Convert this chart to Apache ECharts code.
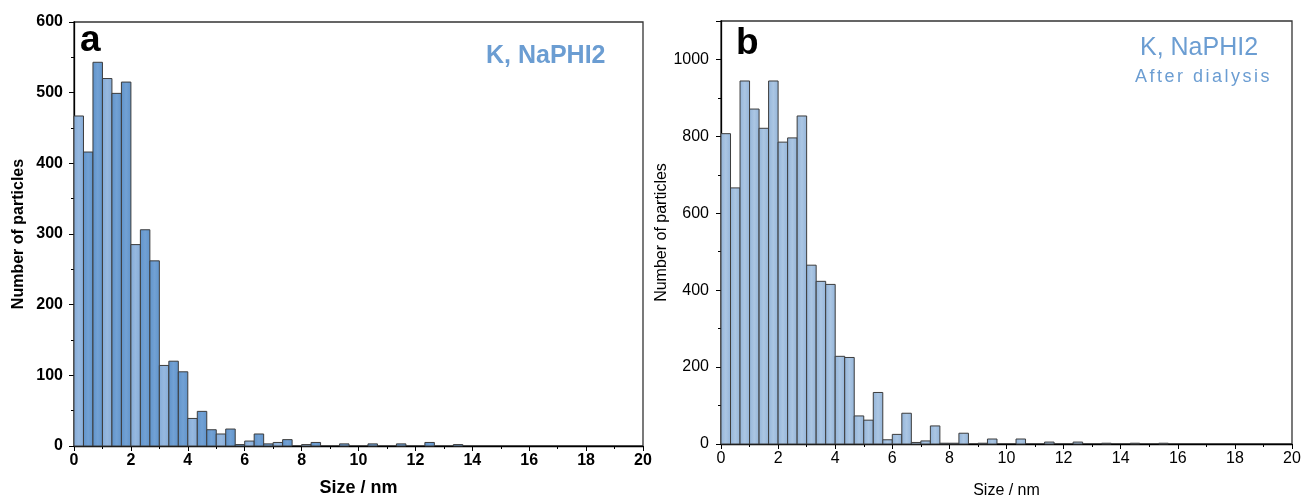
<!DOCTYPE html>
<html>
<head>
<meta charset="utf-8">
<script src="https://cdn.jsdelivr.net/npm/echarts@6/dist/echarts.min.js"></script>
<style>
  html, body { margin: 0; padding: 0; background: #fff; }
  #chart { width: 1305px; height: 504px; }
</style>
</head>
<body>
<div id="chart"></div>
<script>
// histogram bins: 1/3 nm wide, from 0 to 20 nm
const binWidth = 1 / 3
const countsA = [467, 416, 543, 520, 499, 515, 285, 306, 262, 114, 120, 105, 39, 49, 23, 17, 24, 2, 7, 17,
  3, 5, 9, 0, 2, 5, 0, 0, 3, 0, 0, 3, 0, 0, 3, 0, 0, 5, 0, 0, 2]
const countsB = [807, 666, 944, 871, 821, 944, 785, 796, 853, 465, 423, 415, 228, 225, 73, 62, 134, 11, 25, 80,
  4, 8, 47, 2, 2, 28, 0, 2, 13, 0, 0, 13, 0, 0, 5, 0, 0, 5, 0, 0, 2, 0, 0, 2, 0, 0, 2]
const xTicks = [0, 2, 4, 6, 8, 10, 12, 14, 16, 18, 20]
const yTicksA = [0, 100, 200, 300, 400, 500, 600]
const yTicksB = [0, 200, 400, 600, 800, 1000]

const toBins = counts => counts.map((c, i) => [i * binWidth, (i + 1) * binWidth, c]).filter(d => d[2] > 0)

const fontMain = '"Liberation Sans", Arial, sans-serif'

function barRender(fills) {
  return function (params, api) {
    const p0 = api.coord([api.value(0), 0])
    const p1 = api.coord([api.value(1), api.value(2)])
    const idx = Math.round(api.value(0) / binWidth)
    return {
      type: 'rect',
      shape: { x: p0[0], y: p1[1], width: p1[0] - p0[0], height: p0[1] - p1[1] },
      style: { fill: fills(idx), stroke: '#3c3c3c', lineWidth: 1 },
    }
  }
}

const grad = (c1, c2) => new echarts.graphic.LinearGradient(0, 0, 1, 0, [
  { offset: 0, color: c1 }, { offset: 0.5, color: c2 }, { offset: 1, color: c1 }])

const fillA = i => i % 3 === 0 ? grad('#84abd8', '#96b8df') : grad('#5f93cb', '#72a1d4')
const fillB = i => grad('#93b4d9', '#abc6e3')

// letter-spaced text, one element per character
function spacedText(str, x, y, font, spacing, color) {
  const ctx = document.createElement('canvas').getContext('2d')
  ctx.font = font
  const children = []
  let cx = 0
  for (const ch of str) {
    children.push({ type: 'text', x: cx, y: 0, style: { text: ch, font, fill: color } })
    cx += ctx.measureText(ch).width + spacing
  }
  return { type: 'group', left: x, top: y, children }
}

function xAxis(gridIndex, bold, nameGap, nameSize) {
  return {
    type: 'value', gridIndex, min: 0, max: 20, interval: 2,
    name: 'Size / nm', nameLocation: 'middle', nameGap,
    nameTextStyle: { fontFamily: fontMain, fontSize: nameSize, fontWeight: bold ? 'bold' : 'normal', color: '#000' },
    axisLine: { show: true, lineStyle: { color: '#000', width: 1.3 } },
    axisTick: { show: true, inside: false, length: 5, lineStyle: { color: '#000' } },
    minorTick: { show: true, splitNumber: 2, length: 3, lineStyle: { color: '#000' } },
    splitLine: { show: false },
    axisLabel: {
      fontFamily: fontMain, fontSize: 16, fontWeight: bold ? 'bold' : 'normal', color: '#000', margin: 7,
      formatter: v => xTicks.includes(v) ? String(v) : '',
    },
  }
}

function yAxis(gridIndex, bold, max, interval, ticks, nameGap, nameSize, margin) {
  return {
    type: 'value', gridIndex, min: 0, max, interval,
    name: 'Number of particles', nameLocation: 'middle', nameGap,
    nameTextStyle: { fontFamily: fontMain, fontSize: nameSize, fontWeight: bold ? 'bold' : 'normal', color: '#000' },
    axisLine: { show: true, lineStyle: { color: '#000', width: 1.3 } },
    axisTick: { show: true, inside: false, length: 5, lineStyle: { color: '#000' } },
    minorTick: { show: true, splitNumber: 2, length: 3, lineStyle: { color: '#000' } },
    splitLine: { show: false },
    axisLabel: {
      fontFamily: fontMain, fontSize: 16, fontWeight: bold ? 'bold' : 'normal', color: '#000', margin,
      showMaxLabel: ticks.includes(max),
      formatter: v => ticks.includes(v) ? String(v) : '',
    },
  }
}

const chart = echarts.init(document.getElementById('chart'), null, { renderer: 'canvas' })

chart.setOption({
  animation: false,
  backgroundColor: '#fff',
  grid: [
    { left: 74, top: 22, width: 569, height: 424, show: true, borderColor: '#333', borderWidth: 1.3, backgroundColor: 'transparent' },
    { left: 721, top: 21, width: 571, height: 425, show: true, borderColor: '#333', borderWidth: 1.3, backgroundColor: 'transparent' },
  ],
  xAxis: [xAxis(0, true, 33, 18), xAxis(1, false, 39, 16)],
  yAxis: [yAxis(0, true, 600, 100, yTicksA, 47, 16, 11), yAxis(1, false, 1100, 200, yTicksB, 51, 16, 12)],
  series: [
    { type: 'custom', xAxisIndex: 0, yAxisIndex: 0, data: toBins(countsA), renderItem: barRender(fillA), encode: { x: [0, 1], y: 2 } },
    { type: 'custom', xAxisIndex: 1, yAxisIndex: 1, data: toBins(countsB), renderItem: barRender(fillB), encode: { x: [0, 1], y: 2 } },
  ],
  graphic: [
    { type: 'text', left: 80, top: 22, style: { text: 'a', font: 'bold 37px ' + fontMain, fill: '#000' } },
    { type: 'text', left: 736, top: 25, style: { text: 'b', font: 'bold 37px ' + fontMain, fill: '#000' } },
    { type: 'text', left: 486, top: 44, style: { text: 'K, NaPHI2', font: 'bold 25px ' + fontMain, fill: '#6b9dd2' } },
    { type: 'text', left: 1140, top: 36, style: { text: 'K, NaPHI2', font: '500 25px ' + fontMain, fill: '#6b9dd2' } },
    spacedText('After dialysis', 1135, 68, '18px ' + fontMain, 2.5, '#6b9dd2'),
  ],
})
</script>
</body>
</html>
